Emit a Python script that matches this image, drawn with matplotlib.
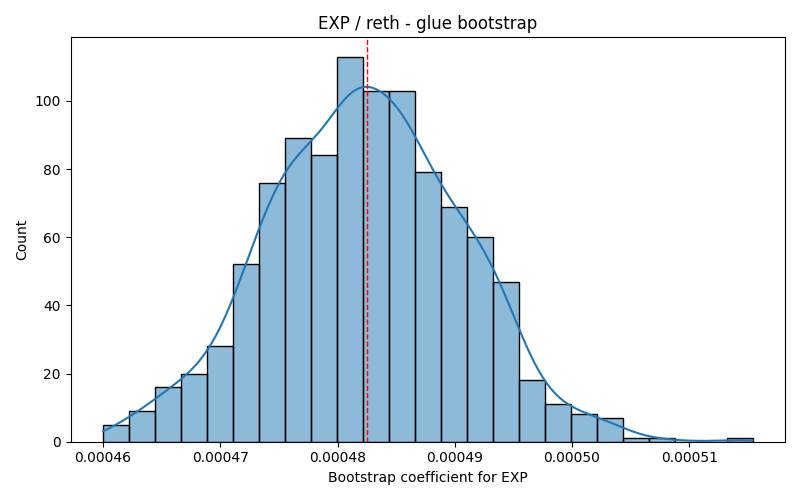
import numpy as np
import matplotlib
matplotlib.use("Agg")
import matplotlib.pyplot as plt
from matplotlib.colors import to_rgba

# bootstrap histogram
data_min = 0.0004600
data_max = 0.0005154
counts = [5, 9, 16, 20, 28, 52, 76, 89, 84, 113, 103, 103, 79,
          69, 60, 47, 18, 11, 8, 7, 1, 1, 0, 0, 1]
mean_coef = 0.0004825

edges = np.linspace(data_min, data_max, len(counts) + 1)
binw = edges[1] - edges[0]
centers = 0.5 * (edges[:-1] + edges[1:])
counts = np.array(counts, dtype=float)
n = counts.sum()

# gaussian kde from the binned counts (Scott's rule), scaled to counts
mu = np.sum(centers * counts) / n
sd = np.sqrt(np.sum(counts * (centers - mu) ** 2) / (n - 1))
bw = sd * n ** (-1 / 5)
xs = np.linspace(data_min, data_max, 400)
dens = np.zeros_like(xs)
for c, w in zip(centers, counts):
    dens += w * np.exp(-0.5 * ((xs - c) / bw) ** 2)
dens = dens / (n * bw * np.sqrt(2 * np.pi))
kde_counts = dens * n * binw

fig, ax = plt.subplots(figsize=(8, 5), dpi=100)
ax.bar(edges[:-1], counts, width=binw, align='edge',
       facecolor=to_rgba('#1f77b4', 0.5), edgecolor='black', linewidth=1)
ax.plot(xs, kde_counts, color='#1f77b4', lw=1.5)
ax.axvline(mean_coef, color='red', linestyle='--', linewidth=1)

ax.set_title('EXP / reth - glue bootstrap')
ax.set_xlabel('Bootstrap coefficient for EXP')
ax.set_ylabel('Count')
ax.set_xticks([0.00046, 0.00047, 0.00048, 0.00049, 0.00050, 0.00051])
ax.set_xticklabels(['0.00046', '0.00047', '0.00048', '0.00049', '0.00050', '0.00051'])

fig.tight_layout()
plt.savefig('out.png', dpi=100)
